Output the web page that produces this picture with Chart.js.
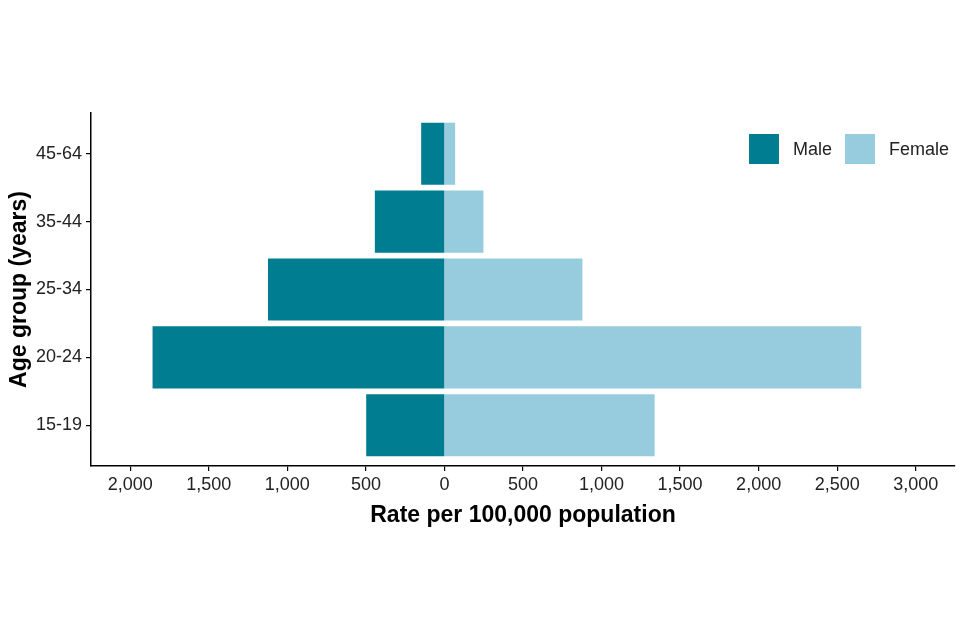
<!DOCTYPE html>
<html>
<head>
<meta charset="utf-8">
<script src="https://cdn.jsdelivr.net/npm/chart.js@4/dist/chart.umd.min.js"></script>
<style>
  html, body { margin: 0; padding: 0; background: #ffffff; }
  #wrap { width: 960px; height: 640px; }
</style>
</head>
<body>
<div id="wrap"><canvas id="c" width="960" height="640"></canvas></div>
<script>
const ageGroups = ['15-19', '20-24', '25-34', '35-44', '45-64'];
const maleRates = [495, 1855, 1120, 440, 145];
const femaleRates = [1335, 2650, 875, 245, 65];
const xTickValues = [-2000, -1500, -1000, -500, 0, 500, 1000, 1500, 2000, 2500, 3000];
const seriesNames = ['Male', 'Female'];
const seriesColors = ['#007D91', '#96CCDD'];

const FONT = "'Liberation Sans', Arial, sans-serif";
const TXT = '#222222';

const legendPlugin = {
  id: 'insideLegend',
  afterDraw(chart) {
    const ctx = chart.ctx;
    ctx.save();
    ctx.font = '18px ' + FONT;
    ctx.textBaseline = 'middle';
    ctx.textAlign = 'left';
    let x = 749;
    const yTop = 134, box = 30;
    chart.data.datasets.forEach((ds) => {
      ctx.fillStyle = ds.backgroundColor;
      ctx.fillRect(x, yTop, box, box);
      x += box + 14;
      ctx.fillStyle = TXT;
      ctx.fillText(ds.label, x, yTop + box / 2 + 1);
      x += ctx.measureText(ds.label).width + 13;
    });
    ctx.restore();
  }
};

new Chart(document.getElementById('c'), {
  type: 'bar',
  data: {
    datasets: [
      {
        label: seriesNames[0],
        data: maleRates.map((v, i) => ({ x: -v, y: i + 1 })),
        backgroundColor: seriesColors[0],
        grouped: false,
        barPercentage: 0.9,
        categoryPercentage: 1.0,
        borderWidth: 0,
        inflateAmount: 0.5
      },
      {
        label: seriesNames[1],
        data: femaleRates.map((v, i) => ({ x: v, y: i + 1 })),
        backgroundColor: seriesColors[1],
        grouped: false,
        barPercentage: 0.9,
        categoryPercentage: 1.0,
        borderWidth: 0,
        inflateAmount: 0.5
      }
    ]
  },
  options: {
    indexAxis: 'y',
    responsive: false,
    animation: false,
    devicePixelRatio: 1,
    layout: { padding: { top: 113, right: 5, bottom: 0, left: 0 } },
    plugins: {
      legend: { display: false },
      tooltip: { enabled: false }
    },
    scales: {
      x: {
        type: 'linear',
        min: -2250,
        max: 3250,
        offset: false,
        afterBuildTicks(scale) { scale.ticks = xTickValues.map(v => ({ value: v })); },
        afterFit(scale) { scale.height = 640 - 466; },
        grid: { display: true, offset: false, drawOnChartArea: false, drawTicks: true, tickLength: 5, color: '#000', lineWidth: 1.2 },
        border: { display: true, color: '#000', width: 1.5 },
        ticks: {
          padding: 3,
          maxRotation: 0,
          autoSkip: false,
          color: TXT,
          font: { family: FONT, size: 18 },
          callback: (v) => Math.abs(v).toLocaleString('en-US')
        },
        title: {
          display: true,
          text: 'Rate per 100,000 population',
          color: '#000',
          font: { family: FONT, size: 23, weight: 'bold' },
          padding: { top: 0, bottom: 111 }
        }
      },
      y: {
        type: 'linear',
        min: 0.4,
        max: 5.6,
        offset: false,
        afterBuildTicks(scale) { scale.ticks = ageGroups.map((a, i) => ({ value: i + 1 })); },
        afterFit(scale) { scale.width = 91; },
        grid: { display: true, offset: false, drawOnChartArea: false, drawTicks: true, tickLength: 5, color: '#000', lineWidth: 1.2 },
        border: { display: true, color: '#000', width: 1.5 },
        ticks: {
          padding: 4,
          autoSkip: false,
          color: TXT,
          font: { family: FONT, size: 18 },
          callback: (v) => ageGroups[Math.round(v) - 1] || ''
        },
        title: {
          display: true,
          text: 'Age group (years)',
          color: '#000',
          font: { family: FONT, size: 23, weight: 'bold' },
          padding: { top: 6, bottom: 0 }
        }
      }
    }
  },
  plugins: [legendPlugin]
});
</script>
</body>
</html>
